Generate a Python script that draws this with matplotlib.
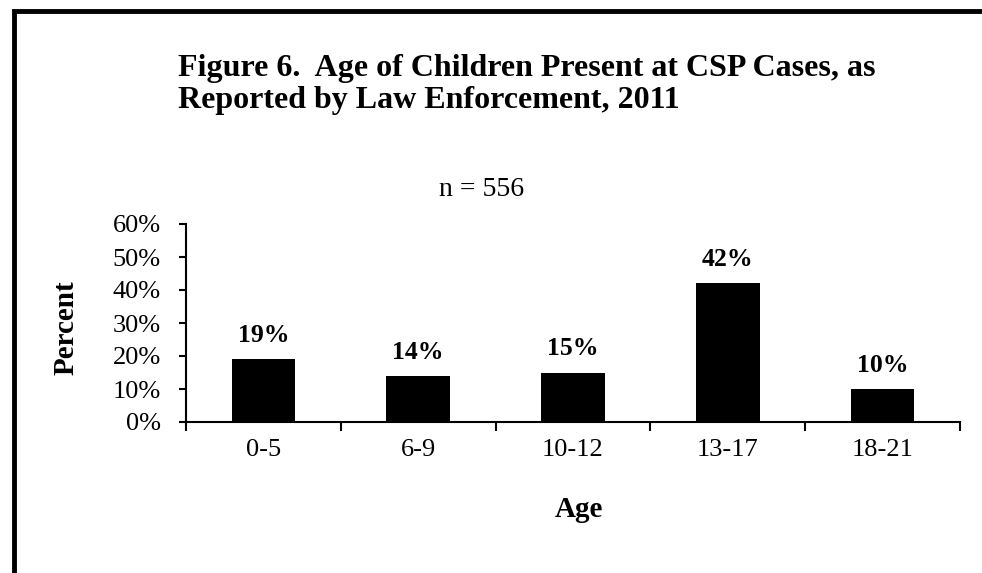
import matplotlib.pyplot as plt
from matplotlib.patches import Rectangle

ages = ["0-5", "6-9", "10-12", "13-17", "18-21"]
percent = [19, 14, 15, 42, 10]
yticks = [0, 10, 20, 30, 40, 50, 60]

plt.rcParams["font.family"] = ["Liberation Serif", "DejaVu Serif"]

W, H = 982, 573
fig = plt.figure(figsize=(W / 100, H / 100), dpi=100)

# outer frame (only top and left edges visible in the crop)
fig.patches.append(Rectangle((13.5 / W, -0.1), 1.2, 1 - 10.5 / H + 0.1,
                             transform=fig.transFigure, fill=False,
                             edgecolor="black", linewidth=3.5))

ax = fig.add_axes([186 / W, 1 - 422 / H, (960 - 186) / W, (422 - 224) / H])
x = range(len(ages))
ax.bar(x, percent, width=0.41, color="black")
ax.set_xlim(-0.5, len(ages) - 0.5)
ax.set_ylim(0, 60)
ax.set_yticks(yticks)
ax.set_yticklabels([f"{v}%" for v in yticks], fontsize=19)
ax.set_xticks([i - 0.5 for i in range(len(ages) + 1)])
ax.set_xticklabels([])
ax.set_xticks(list(x), minor=True)
ax.set_xticklabels(ages, minor=True, fontsize=19)
ax.tick_params(axis="x", which="minor", length=0, pad=12)
ax.tick_params(axis="x", which="major", direction="out", length=6.5, width=1.5)
ax.tick_params(axis="y", direction="out", length=5, width=1.5, pad=13)
for s in ["top", "right"]:
    ax.spines[s].set_visible(False)
for s in ["left", "bottom"]:
    ax.spines[s].set_linewidth(1.5)

for i, v in enumerate(percent):
    ax.text(i, v + 5.2, f"{v}%", ha="center", va="baseline",
            fontsize=18.5, fontweight="bold")

ax.set_ylabel("Percent", fontsize=21, fontweight="bold", va="center")
ax.yaxis.set_label_coords(-0.155, 0.475)
ax.set_xlabel("Age", fontsize=21, fontweight="bold", va="center")
ax.xaxis.set_label_coords(0.508, -0.444)

fig.text(178 / W, 1 - 76 / H,
         "Figure 6.  Age of Children Present at CSP Cases, as",
         fontsize=23, fontweight="bold", va="baseline", ha="left")
fig.text(178 / W, 1 - 108 / H,
         "Reported by Law Enforcement, 2011",
         fontsize=23, fontweight="bold", va="baseline", ha="left")
fig.text(482 / W, 1 - 190 / H, "n = 556", fontsize=20,
         ha="center", va="center")

fig.savefig("out.png", dpi=100)
